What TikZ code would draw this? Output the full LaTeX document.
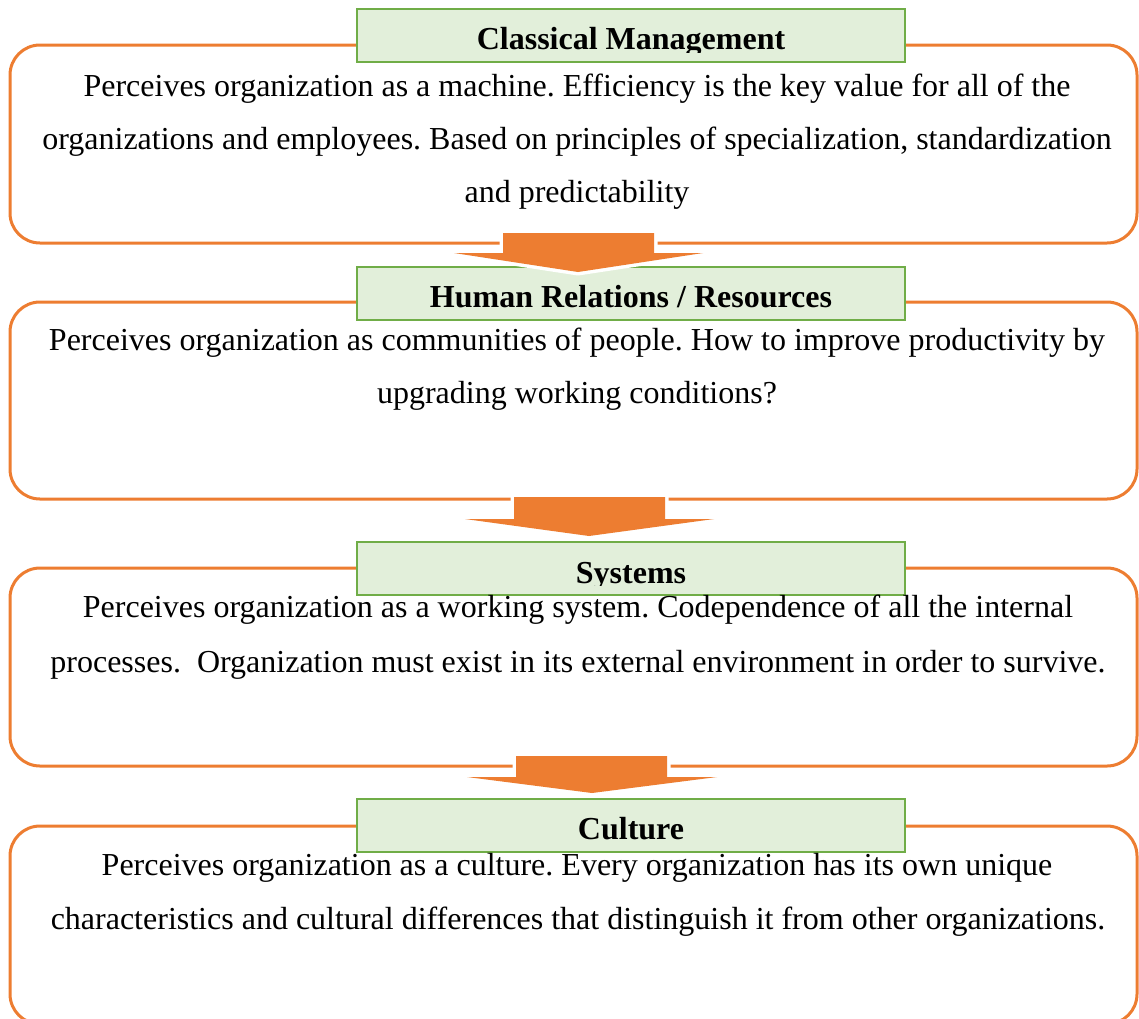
\documentclass[tikz,border=0pt]{standalone}
\usepackage{fontspec}
\setmainfont{Liberation Serif}
\definecolor{orng}{HTML}{ED7D31}
\definecolor{grn}{HTML}{70AD47}
\definecolor{grnfill}{HTML}{E2EFDA}
\begin{document}
\frenchspacing
\begin{tikzpicture}[x=1pt,y=-1pt,
  outerbox/.style={draw=orng,line width=3pt,rounded corners=30pt,fill=white},
  labelbox/.style={draw=grn,line width=2.5pt,fill=grnfill},
  blockarrow/.style={fill=orng,preaction={draw=white,line width=7pt,line join=round}},
  bodytxt/.style={anchor=base,inner sep=0pt,font=\fontsize{32}{38}\selectfont},
  labeltxt/.style={anchor=base,inner sep=0pt,font=\fontsize{32}{38}\selectfont\bfseries}]
\useasboundingbox (0,0) rectangle (1139,1018);
\clip (0,0) rectangle (1139,1018);
% outer boxes
\draw[outerbox] (10,45) rectangle (1137,243);
\draw[outerbox] (10,302) rectangle (1137,499);
\draw[outerbox] (10,568) rectangle (1137,766);
\draw[outerbox] (10,826) rectangle (1137,1024);
% label boxes
\draw[labelbox] (357,9) rectangle (905,62);
\draw[labelbox] (357,267) rectangle (905,320);
\draw[labelbox] (357,542) rectangle (905,595);
\draw[labelbox] (357,799) rectangle (905,852);
% label texts (clipped like the text boxes)
\begin{scope}
\clip (357,9) rectangle (905,52);
\node[labeltxt] (l1) at (631,49) {Classical Management};
\end{scope}
\begin{scope}
\clip (357,267) rectangle (905,310);
\node[labeltxt] (l2) at (631,307) {Human Relations / Resources};
\end{scope}
\begin{scope}
\clip (357,542) rectangle (905,585);
\node[labeltxt] (l3) at (631,583) {Systems};
\end{scope}
\begin{scope}
\clip (357,799) rectangle (905,842);
\node[labeltxt] (l4) at (631,839) {Culture};
\end{scope}
% body texts
\node[bodytxt] (t11) at (577,96) {Perceives organization as a machine. Efficiency is the key value for all of the};
\node[bodytxt] (t12) at (577,149) {organizations and employees. Based on principles of specialization, standardization};
\node[bodytxt] (t13) at (577,202) {and predictability};
\node[bodytxt] (t21) at (577,350) {Perceives organization as communities of people. How to improve productivity by};
\node[bodytxt] (t22) at (577,403) {upgrading working conditions?};
\node[bodytxt] (t31) at (578,617) {Perceives organization as a working system. Codependence of all the internal};
\node[bodytxt] (t32) at (578,672) {processes.~~Organization must exist in its external environment in order to survive.};
\node[bodytxt] (t41) at (577,875) {Perceives organization as a culture. Every organization has its own unique};
\node[bodytxt] (t42) at (578,929) {characteristics and cultural differences that distinguish it from other organizations.};
% block arrows
\path[blockarrow] (503,233) -- (654,233) -- (654,253) -- (703,253) -- (578,272) -- (454,253) -- (503,253) -- cycle;
\path[blockarrow] (514,497) -- (665,497) -- (665,519) -- (714,519) -- (589,536) -- (465,519) -- (514,519) -- cycle;
\path[blockarrow] (516,756) -- (667,756) -- (667,777) -- (717,777) -- (592,793) -- (467,777) -- (516,777) -- cycle;
\end{tikzpicture}
\end{document}
